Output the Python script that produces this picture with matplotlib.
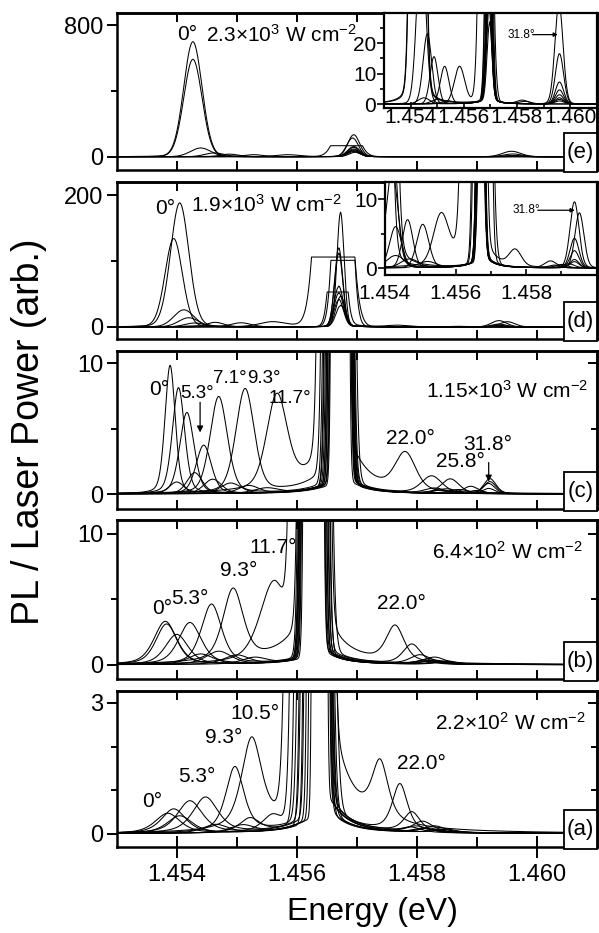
import numpy as np
import matplotlib
matplotlib.use("Agg")
import matplotlib.pyplot as plt
from matplotlib.patches import Rectangle

plt.rcParams['font.family'] = ['Liberation Sans', 'DejaVu Sans']
plt.rcParams['mathtext.fontset'] = 'custom'
plt.rcParams['mathtext.rm'] = 'Liberation Sans'
plt.rcParams['mathtext.it'] = 'Liberation Sans:italic'
plt.rcParams['mathtext.bf'] = 'Liberation Sans:bold'
plt.rcParams['mathtext.default'] = 'regular'

# ---------------- data ----------------
# rows: (peak energy eV, peak height, FWHM eV) -- one row per spectrum
# Panel (a) 2.2e2 W/cm2
A_LP = [(1.45385, 0.46, 0.00050), (1.45395, 0.56, 0.00048), (1.45405, 0.40, 0.00050),
        (1.45422, 0.74, 0.00050), (1.45448, 0.82, 0.00050), (1.45497, 1.50, 0.00036),
        (1.45525, 2.05, 0.00040), (1.45522, 0.32, 0.00040), (1.45560, 0.35, 0.00040),
        (1.45510, 0.18, 0.00050), (1.45465, 0.20, 0.00050)]
A_HI = [(1.45850, 0.08, 0.0004), (1.45830, 0.15, 0.0004), (1.45810, 0.25, 0.0004),
        (1.45792, 0.45, 0.00032), (1.45772, 1.08, 0.00030), (1.45739, 1.30, 0.00032),
        (1.45800, 0.12, 0.0004), (1.45820, 0.10, 0.0004), (1.45840, 0.08, 0.0004),
        (1.45790, 0.12, 0.0004), (1.45810, 0.10, 0.0004)]
# pump line: (low-energy wall, high-energy wall at panel top, left wing, right wing)
A_PUMP = [(1.45624, 1.45652, 0.4, 1.0), (1.45620, 1.45655, 0.4, 1.0), (1.45616, 1.45657, 0.4, 1.0),
          (1.45612, 1.45659, 0.5, 1.2), (1.45606, 1.45661, 0.5, 1.2), (1.45600, 1.45664, 0.5, 4.5),
          (1.45578, 1.45667, 1.2, 1.5), (1.45595, 1.45660, 0.4, 1.0), (1.45588, 1.45663, 0.4, 1.0),
          (1.45610, 1.45656, 0.3, 0.8), (1.45604, 1.45658, 0.3, 0.8)]

# Panel (b) 6.4e2 W/cm2
B_LP = [(1.45381, 3.3, 0.00045), (1.45383, 3.1, 0.00042), (1.45400, 2.3, 0.00045),
        (1.45422, 3.2, 0.00045), (1.45458, 4.6, 0.00040), (1.45494, 5.5, 0.00040),
        (1.45562, 6.0, 0.00055), (1.45440, 0.8, 0.00050), (1.45470, 1.0, 0.00050),
        (1.45500, 0.7, 0.00050), (1.45530, 0.5, 0.00050)]
B_HI = [(1.45830, 0.30, 0.0004), (1.45850, 0.25, 0.0004), (1.45820, 0.40, 0.0004),
        (1.45806, 0.70, 0.0004), (1.45792, 1.50, 0.00035), (1.45764, 2.70, 0.00035),
        (1.45830, 0.50, 0.0004), (1.45840, 0.25, 0.0004), (1.45810, 0.25, 0.0004),
        (1.45820, 0.25, 0.0004), (1.45850, 0.20, 0.0004)]
B_PUMP = [(1.45608, 1.45646, 0.7, 1.6), (1.45606, 1.45648, 0.7, 1.6), (1.45604, 1.45650, 0.7, 1.6),
          (1.45603, 1.45652, 0.8, 1.8), (1.45601, 1.45655, 0.8, 2.0), (1.45600, 1.45658, 4.5, 5.5),
          (1.45586, 1.45661, 1.5, 2.0), (1.45610, 1.45647, 0.6, 1.3), (1.45607, 1.45650, 0.6, 1.3),
          (1.45605, 1.45653, 0.6, 1.3), (1.45603, 1.45656, 0.6, 1.3)]

# Panel (c) 1.15e3 W/cm2
C_LP = [(1.45389, 9.8, 0.00020), (1.45403, 8.1, 0.00024), (1.45417, 6.2, 0.00028),
        (1.45445, 3.7, 0.00030), (1.45470, 7.4, 0.00034), (1.45514, 7.9, 0.00036),
        (1.45567, 7.0, 0.00040), (1.45430, 1.6, 0.00030), (1.45460, 1.1, 0.00035),
        (1.45490, 0.8, 0.00040), (1.45520, 0.6, 0.00040), (1.45400, 0.9, 0.00030),
        (1.45550, 0.4, 0.00050)]
C_HI = [(1.45922, 1.15, 0.00024), (1.45922, 0.92, 0.00024), (1.45920, 0.78, 0.00024),
        (1.45920, 0.40, 0.00024), (1.45890, 0.55, 0.00030), (1.45856, 1.10, 0.00035),
        (1.45825, 1.30, 0.00040), (1.45781, 2.80, 0.00040), (1.45850, 0.35, 0.0004),
        (1.45870, 0.30, 0.0004), (1.45830, 0.40, 0.0004), (1.45900, 0.25, 0.0003),
        (1.45840, 0.25, 0.0004)]
C_PUMP = [(1.45652, 1.45692, 1.0, 1.4), (1.45650, 1.45693, 1.0, 1.4), (1.45648, 1.45694, 1.0, 1.4),
          (1.45646, 1.45695, 1.0, 1.4), (1.45643, 1.45696, 1.2, 1.6), (1.45640, 1.45697, 2.5, 1.6),
          (1.45633, 1.45700, 5.0, 1.8), (1.45655, 1.45690, 1.0, 5.0), (1.45654, 1.45691, 0.9, 1.4),
          (1.45652, 1.45692, 0.9, 1.4), (1.45650, 1.45693, 0.9, 1.4), (1.45656, 1.45689, 0.8, 1.2),
          (1.45645, 1.45695, 0.8, 1.2)]

# Panel (d) 1.9e3 W/cm2 ; pump rows: (centre, height, FWHM, saturation level, left wing, right wing)
D_LP = [(1.45405, 188, 0.00036), (1.45395, 134, 0.00034), (1.45412, 26, 0.0004),
        (1.45420, 14, 0.0004), (1.45430, 6, 0.0004), (1.45559, 7.0, 0.0005),
        (1.45464, 7.0, 0.00035), (1.45507, 6.3, 0.0004), (1.45430, 1.8, 0.0006),
        (1.45470, 1.3, 0.0006), (1.45520, 0.9, 0.0006)]
D_HI = [(1.45937, 1.2, 0.0003), (1.45937, 0.9, 0.0003), (1.45937, 2.5, 0.0003),
        (1.45937, 4.3, 0.0003), (1.45951, 8.0, 0.0003), (1.45869, 1.0, 0.0004),
        (1.45937, 9.6, 0.0003), (1.45769, 2.3, 0.0004), (1.45900, 0.5, 0.0004),
        (1.45920, 0.6, 0.0004), (1.45880, 0.4, 0.0004)]
D_PUMP = [(1.45673, 45, 0.00018, np.inf, 1.0, 2.0), (1.45673, 31, 0.00018, np.inf, 1.0, 2.0),
          (1.45673, 172, 0.00014, np.inf, 1.0, 2.0), (1.45670, 118, 0.00016, np.inf, 1.0, 2.0),
          (1.45670, 110, 0.00016, np.inf, 1.0, 2.0), (1.45661, 1000, 0.00040, 106, 8.0, 2.0),
          (1.45677, 600, 0.00025, 101, 1.0, 2.0), (1.45668, 300, 0.00022, 53, 1.0, 6.0),
          (1.45670, 60, 0.00018, np.inf, 1.0, 2.0), (1.45670, 50, 0.00018, np.inf, 1.0, 2.0),
          (1.45670, 40, 0.00018, np.inf, 1.0, 2.0)]

# Panel (e) 2.3e3 W/cm2
E_LP = [(1.45427, 700, 0.00036), (1.45427, 593, 0.00036), (1.45440, 53, 0.0004),
        (1.45463, 23, 0.00038), (1.45488, 15.5, 0.00035), (1.45528, 12.3, 0.00038),
        (1.45584, 12.0, 0.00045), (1.45450, 2.0, 0.0005), (1.45500, 1.5, 0.0005),
        (1.45540, 1.0, 0.0005)]
E_HI = [(1.45960, 2.0, 0.00036), (1.45960, 3.0, 0.00036), (1.45960, 4.6, 0.00036),
        (1.45960, 7.2, 0.00036), (1.45960, 16.5, 0.00036), (1.45958, 33, 0.00036),
        (1.45820, 1.2, 0.0005), (1.45960, 1.5, 0.0004), (1.45830, 0.8, 0.0005),
        (1.45960, 1.0, 0.0004)]
E_PUMP = [(1.45695, 55, 0.00022, np.inf, 1.5, 2.0), (1.45695, 45, 0.00022, np.inf, 1.5, 2.0),
          (1.45695, 132, 0.00023, np.inf, 1.5, 2.0), (1.45693, 112, 0.00023, np.inf, 1.5, 2.0),
          (1.45695, 40, 0.00022, np.inf, 1.5, 2.0), (1.45695, 60, 0.00024, np.inf, 1.5, 2.0),
          (1.45683, 300, 0.00036, 67, 3.0, 2.0), (1.45695, 35, 0.00022, np.inf, 1.5, 2.0),
          (1.45695, 30, 0.00022, np.inf, 1.5, 2.0), (1.45697, 25, 0.00022, np.inf, 1.5, 2.0)]

X_MAJOR = [1.454, 1.456, 1.458, 1.460]
X_MINOR = [1.455, 1.457, 1.459]
X_LABELS = ['1.454', '1.456', '1.458', '1.460']

# ---------------- figure ----------------
W, H = 599, 933
fig = plt.figure(figsize=(W / 100, H / 100), dpi=100)
E = np.linspace(1.453, 1.461, 3201)
LN2 = np.log(2)


def pv(x0, a, w, eta):
    x = (E - x0) / (w / 2)
    return a * (eta / (1 + x * x) + (1 - eta) * np.exp(-LN2 * x * x))


def core(c, a, w):
    x = (E - c) / (w / 2)
    return a * np.exp(-LN2 * x * x)


def wing(c, bl, br, gl, gr):
    b = np.where(E < c, bl, br)
    g = np.where(E < c, gl, gr)
    return b / (1 + ((E - c) / g) ** 2)


def spectra_walls(lp, hi, pump, eta, top, gl=4e-4, gr=3.4e-4):
    k = np.sqrt(np.log(200) / LN2)
    out = []
    for (e1, a1, w1), (e2, a2, w2), (lo, hiw, bl, br) in zip(lp, hi, pump):
        c = (lo + hiw) / 2
        w = (hiw - lo) / k
        out.append(pv(e1, a1, w1, eta) + pv(e2, a2, w2, eta) + core(c, 200 * top, w)
                   + wing(c, bl, br, gl, gr))
    return out


def spectra_peaks(lp, hi, pump, eta, gl=4e-4, gr=3e-4):
    out = []
    for (e1, a1, w1), (e2, a2, w2), (c, a, w, sat, bl, br) in zip(lp, hi, pump):
        y = pv(e1, a1, w1, eta) + pv(e2, a2, w2, eta) + core(c, a, w) + wing(c, bl, br, gl, gr)
        out.append(np.minimum(y, sat))
    return out


def add_axes_px(left, top, right, bottom):
    return fig.add_axes([left / W, 1 - bottom / H, (right - left) / W, (bottom - top) / H])


XL, XR = 116.7, 596.7


def style_main(ax, ylim, ymaj, ymin, bottom_labels=False):
    ax.set_xlim(1.453, 1.461)
    ax.set_ylim(*ylim)
    for s in ax.spines.values():
        s.set_linewidth(1.8)
    ax.set_xticks(X_MAJOR)
    ax.set_xticks(X_MINOR, minor=True)
    ax.set_yticks(ymaj)
    ax.set_yticks(ymin, minor=True)
    ax.tick_params(axis='y', which='major', direction='out', length=7.5, width=1.4,
                   labelsize=17, pad=2, right=False)
    ax.tick_params(axis='y', which='minor', direction='out', length=4.5, width=1.4, right=False)
    if bottom_labels:
        ax.set_xticklabels(X_LABELS)
        ax.tick_params(axis='x', which='major', direction='inout', length=16, width=1.4,
                       labelsize=17, pad=4, top=False)
        ax.tick_params(axis='x', which='minor', direction='in', length=7, width=1.4, top=False)
    else:
        ax.tick_params(axis='x', which='both', direction='in', length=6.5, width=1.4,
                       top=False, labelbottom=False)
    sy = ax.secondary_yaxis('right')
    sy.set_ticks(ymaj)
    sy.set_ticks(ymin, minor=True)
    sy.tick_params(axis='y', which='major', direction='in', length=6.5, width=1.4,
                   labelright=False, labelleft=False)
    sy.tick_params(axis='y', which='minor', direction='in', length=4, width=1.4)
    sy.spines['right'].set_linewidth(1.8)
    sx = ax.secondary_xaxis('top')
    sx.set_ticks(X_MAJOR)
    sx.set_ticks(X_MINOR, minor=True)
    sx.tick_params(axis='x', which='both', direction='in', length=6.5, width=1.4,
                   labeltop=False, labelbottom=False)
    sx.spines['top'].set_linewidth(1.8)


def style_inset(ax, xlim, xmaj, xmin, ylim, ymaj, ymin, xpad):
    ax.set_xlim(*xlim)
    ax.set_ylim(*ylim)
    ax.set_facecolor('white')
    for s in ax.spines.values():
        s.set_linewidth(1.6)
    ax.set_xticks(xmaj)
    ax.set_xticks(xmin, minor=True)
    ax.set_xticklabels([f'{v:.3f}' for v in xmaj])
    ax.set_yticks(ymaj)
    ax.set_yticks(ymin, minor=True)
    ax.tick_params(axis='x', which='major', direction='in', length=4, width=1.2,
                   labelsize=15, pad=xpad)
    ax.tick_params(axis='x', which='minor', direction='in', length=3, width=1.2)
    ax.tick_params(axis='y', which='major', direction='out', length=5, width=1.2,
                   labelsize=15, pad=0.5)
    ax.tick_params(axis='y', which='minor', direction='out', length=3, width=1.2)


def draw(ax, curves):
    for y in curves:
        ax.plot(E, y, color='k', lw=0.75)


def label_box(ax, txt):
    pos = ax.get_position()
    bw, bh = 33 / W, 39 / H
    x0 = pos.x1 - bw
    y0 = pos.y0 - 2 / H
    fig.add_artist(Rectangle((x0, y0), bw, bh, transform=fig.transFigure, facecolor='white',
                             edgecolor='black', lw=1.3, zorder=10))
    fig.text(x0 + bw / 2, y0 + bh / 2, txt, ha='center', va='center', fontsize=16, zorder=11)


def arrow(ax, xy, xytext, scale=10):
    ax.annotate('', xy=xy, xytext=xytext,
                arrowprops=dict(arrowstyle='-|>', color='k', lw=0.9, mutation_scale=scale,
                                shrinkA=0, shrinkB=0))


FS = 15
POWER = {'e': r'2.3$\times$10$^{3}$ W cm$^{-2}$', 'd': r'1.9$\times$10$^{3}$ W cm$^{-2}$',
         'c': r'1.15$\times$10$^{3}$ W cm$^{-2}$', 'b': r'6.4$\times$10$^{2}$ W cm$^{-2}$',
         'a': r'2.2$\times$10$^{2}$ W cm$^{-2}$'}

# ----- panel (e)
ax_e = add_axes_px(XL, 12.7, XR, 170)
spec_e = spectra_peaks(E_LP, E_HI, E_PUMP, 0.05)
draw(ax_e, spec_e)
style_main(ax_e, (-81, 877), [0, 800], [400])
ax_e.text(1.45418, 744, '0°', fontsize=FS, ha='center', va='center')
ax_e.text(1.45449, 744, POWER['e'], fontsize=FS, ha='left', va='center')
label_box(ax_e, '(e)')

ins_e = add_axes_px(384, 12.7, XR, 108)
draw(ins_e, spec_e)
style_inset(ins_e, (1.453, 1.461), X_MAJOR, X_MINOR, (-1.3, 30), [0, 10, 20], [5, 15, 25], 0)
ins_e.text(1.45816, 22.8, '31.8°', fontsize=8.5, ha='center', va='center')
arrow(ins_e, (1.45954, 22.8), (1.45859, 22.8), scale=6)

# ----- panel (d)
ax_d = add_axes_px(XL, 182, XR, 339)
spec_d = spectra_peaks(D_LP, D_HI, D_PUMP, 0.1)
draw(ax_d, spec_d)
style_main(ax_d, (-18.2, 219.7), [0, 200], [100])
ax_d.text(1.4538, 180, '0°', fontsize=FS, ha='center', va='center')
ax_d.text(1.45424, 185, POWER['d'], fontsize=FS, ha='left', va='center')
label_box(ax_d, '(d)')

ins_d = add_axes_px(385, 182, XR, 275)
draw(ins_d, spec_d)
style_inset(ins_d, (1.454, 1.460), [1.454, 1.456, 1.458], X_MINOR, (-1.0, 12.5), [0, 10], [5], 6.5)
ins_d.text(1.45800, 8.4, '31.8°', fontsize=8.5, ha='center', va='center')
arrow(ins_d, (1.45938, 8.4), (1.45833, 8.4), scale=6)

# ----- panel (c)
ax_c = add_axes_px(XL, 350.7, XR, 509)
draw(ax_c, spectra_walls(C_LP, C_HI, C_PUMP, 0.3, 10.94))
style_main(ax_c, (-1.145, 10.94), [0, 10], [5])
for txt, x, y, fs in [('0°', 1.4537, 8.0, FS), ('5.3°', 1.45434, 7.67, 13.5),
                      ('7.1°', 1.45489, 8.85, 13.5), ('9.3°', 1.45545, 8.85, 13.5),
                      ('11.7°', 1.45589, 7.3, 13.5), ('22.0°', 1.45789, 4.22, FS),
                      ('31.8°', 1.45918, 3.8, FS), ('25.8°', 1.45873, 2.46, FS)]:
    ax_c.text(x, y, txt, fontsize=fs, ha='center', va='center')
ax_c.text(1.45951, 7.86, POWER['c'], fontsize=FS, ha='center', va='center')
arrow(ax_c, (1.45439, 4.7), (1.45439, 7.0), scale=9)
arrow(ax_c, (1.4592, 0.95), (1.4592, 2.4), scale=9)
label_box(ax_c, '(c)')

# ----- panel (b)
ax_b = add_axes_px(XL, 520, XR, 678.7)
draw(ax_b, spectra_walls(B_LP, B_HI, B_PUMP, 0.5, 11.07))
style_main(ax_b, (-1.07, 11.07), [0, 10], [5])
for txt, x, y in [('11.7°', 1.45561, 8.97), ('9.3°', 1.45503, 7.17), ('0°', 1.45376, 4.3),
                  ('5.3°', 1.45422, 5.06), ('22.0°', 1.45774, 4.68)]:
    ax_b.text(x, y, txt, fontsize=FS, ha='center', va='center')
ax_b.text(1.45951, 8.6, POWER['b'], fontsize=FS, ha='center', va='center')
label_box(ax_b, '(b)')

# ----- panel (a)
ax_a = add_axes_px(XL, 691, XR, 847)
draw(ax_a, spectra_walls(A_LP, A_HI, A_PUMP, 0.6, 3.275))
style_main(ax_a, (-0.305, 3.275), [0, 3], [1, 2], bottom_labels=True)
for txt, x, y in [('10.5°', 1.45531, 2.77), ('9.3°', 1.45479, 2.21), ('5.3°', 1.45434, 1.32),
                  ('0°', 1.45359, 0.75), ('22.0°', 1.45808, 1.62)]:
    ax_a.text(x, y, txt, fontsize=FS, ha='center', va='center')
ax_a.text(1.45956, 2.55, POWER['a'], fontsize=FS, ha='center', va='center')
label_box(ax_a, '(a)')

fig.text(28.6 / W, 1 - 431.5 / H, 'PL / Laser Power (arb.)', rotation=90, fontsize=27,
         ha='center', va='center')
fig.text(372 / W, 1 - 912 / H, 'Energy (eV)', fontsize=23, ha='center', va='center')

fig.savefig('out.png', dpi=100)
